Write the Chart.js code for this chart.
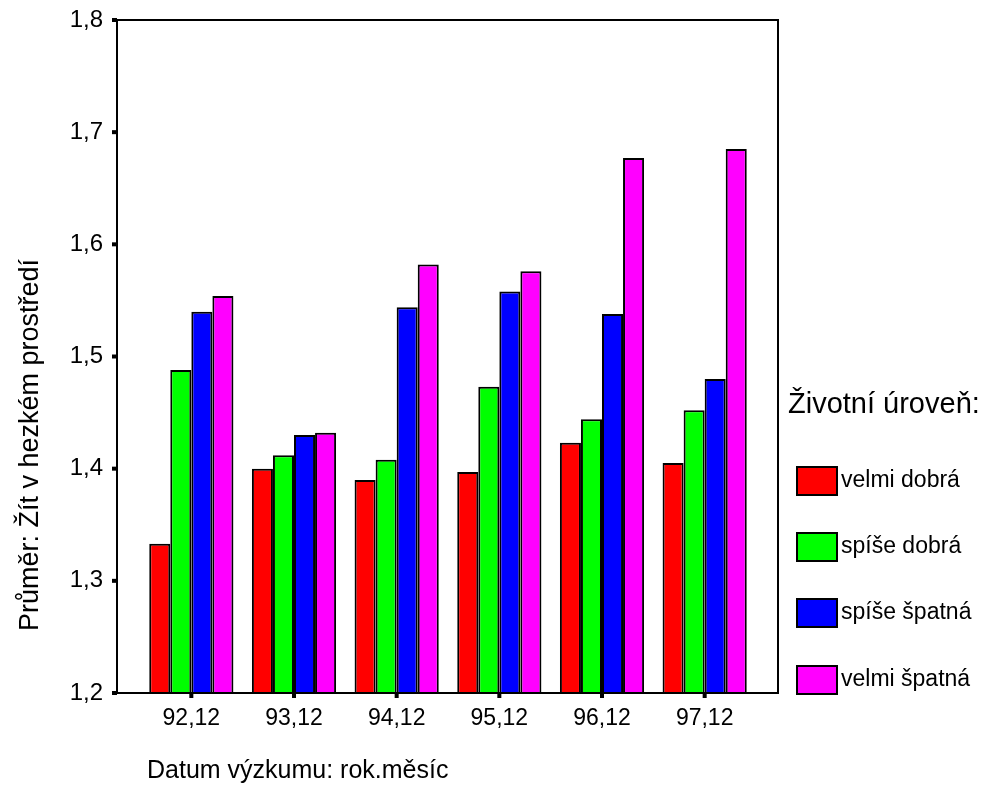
<!DOCTYPE html>
<html>
<head>
<meta charset="utf-8">
<script src="https://cdn.jsdelivr.net/npm/chart.js@4"></script>
<style>
  html, body { margin: 0; padding: 0; background: #fff; }
  #wrap { width: 995px; height: 809px; }
</style>
</head>
<body>
<div id="wrap"><canvas id="myChart" width="995" height="809"></canvas></div>
<script>
// Kategorie na ose X
var labels = ['92,12', '93,12', '94,12', '95,12', '96,12', '97,12'];

// Hodnoty pro jednotlivé skupiny (průměr)
var velmiDobra = [1.333, 1.400, 1.390, 1.397, 1.423, 1.405];
var spiseDobra = [1.488, 1.412, 1.408, 1.473, 1.444, 1.452];
var spiseSpatna = [1.540, 1.430, 1.544, 1.558, 1.538, 1.480];
var velmiSpatna = [1.554, 1.432, 1.582, 1.576, 1.677, 1.685];

var seriesNames = ['velmi dobrá', 'spíše dobrá', 'spíše špatná', 'velmi špatná'];
var seriesColors = ['#ff0000', '#00ff00', '#0000ff', '#ff00ff'];

// Osa Y
var yMin = 1.2;
var yMax = 1.8;
var yStep = 0.1;

var yTitle = 'Průměr: Žít v hezkém prostředí';
var xTitle = 'Datum výzkumu: rok.měsíc';
var legendTitle = 'Životní úroveň:';

var fontName = '"Liberation Sans", Arial, sans-serif';

function makeSet(i, values) {
  return {
    label: seriesNames[i],
    data: values,
    backgroundColor: seriesColors[i],
    borderColor: '#000',
    borderWidth: 2,
    borderSkipped: 'bottom',
    base: yMin,
    categoryPercentage: 0.82,
    barPercentage: 1.0
  };
}

// Rámeček, značky, popisky os a legenda
var framePlugin = {
  id: 'frame',
  afterDraw: function(chart) {
    var ctx = chart.ctx;
    var area = chart.chartArea;
    var left = 117, right = 778, top = area.top, bottom = area.bottom;
    ctx.save();
    ctx.strokeStyle = '#000';
    ctx.lineWidth = 2;
    ctx.strokeRect(left, top, right - left, bottom - top);

    ctx.fillStyle = '#000';
    var ys = chart.scales.y;
    ys.ticks.forEach(function(t) {
      var py = ys.getPixelForValue(t.value);
      ctx.fillRect(left - 5, py - 2, 5, 4);
    });
    var xs = chart.scales.x;
    labels.forEach(function(l, i) {
      var px = xs.getPixelForValue(i);
      ctx.fillRect(px - 2, bottom, 4, 5);
    });

    // popisky os
    ctx.font = '25px ' + fontName;
    ctx.textBaseline = 'middle';
    ctx.textAlign = 'left';
    ctx.fillText(xTitle, 147, 771);

    ctx.save();
    ctx.font = '27px ' + fontName;
    ctx.translate(31, 445);
    ctx.rotate(-Math.PI / 2);
    ctx.textAlign = 'center';
    ctx.fillText(yTitle, 0, 0);
    ctx.restore();

    // legenda
    ctx.textAlign = 'left';
    ctx.font = '29px ' + fontName;
    ctx.fillText(legendTitle, 788, 405);
    ctx.font = '23px ' + fontName;
    var itemY = [481, 547, 613, 680];
    seriesNames.forEach(function(name, i) {
      ctx.fillStyle = seriesColors[i];
      ctx.fillRect(797, itemY[i] - 14, 40, 28);
      ctx.strokeStyle = '#000';
      ctx.lineWidth = 2;
      ctx.strokeRect(797, itemY[i] - 14, 40, 28);
      ctx.fillStyle = '#000';
      ctx.fillText(name, 841, itemY[i]);
    });
    ctx.restore();
  }
};

var chart = new Chart(document.getElementById('myChart'), {
  type: 'bar',
  data: {
    labels: labels,
    datasets: [
      makeSet(0, velmiDobra),
      makeSet(1, spiseDobra),
      makeSet(2, spiseSpatna),
      makeSet(3, velmiSpatna)
    ]
  },
  options: {
    responsive: false,
    animation: false,
    layout: { padding: { left: 0, right: 239, top: 20, bottom: 0 } },
    scales: {
      x: {
        grid: { display: false, drawTicks: false },
        border: { display: false },
        ticks: {
          color: '#000',
          padding: 12,
          maxRotation: 0,
          font: { family: fontName, size: 23 }
        },
        afterFit: function(scale) { scale.height = 116; }
      },
      y: {
        min: yMin,
        max: yMax,
        grid: { display: false, drawTicks: false },
        border: { display: false },
        ticks: {
          stepSize: yStep,
          color: '#000',
          padding: 37,
          font: { family: fontName, size: 24 },
          callback: function(v) { return v.toFixed(1).replace('.', ','); }
        },
        afterFit: function(scale) {
          scale.width = 140;
          scale.paddingTop = 0;
          scale.paddingBottom = 0;
        }
      }
    },
    plugins: {
      legend: { display: false },
      tooltip: { enabled: false }
    }
  },
  plugins: [framePlugin]
});
</script>
</body>
</html>
